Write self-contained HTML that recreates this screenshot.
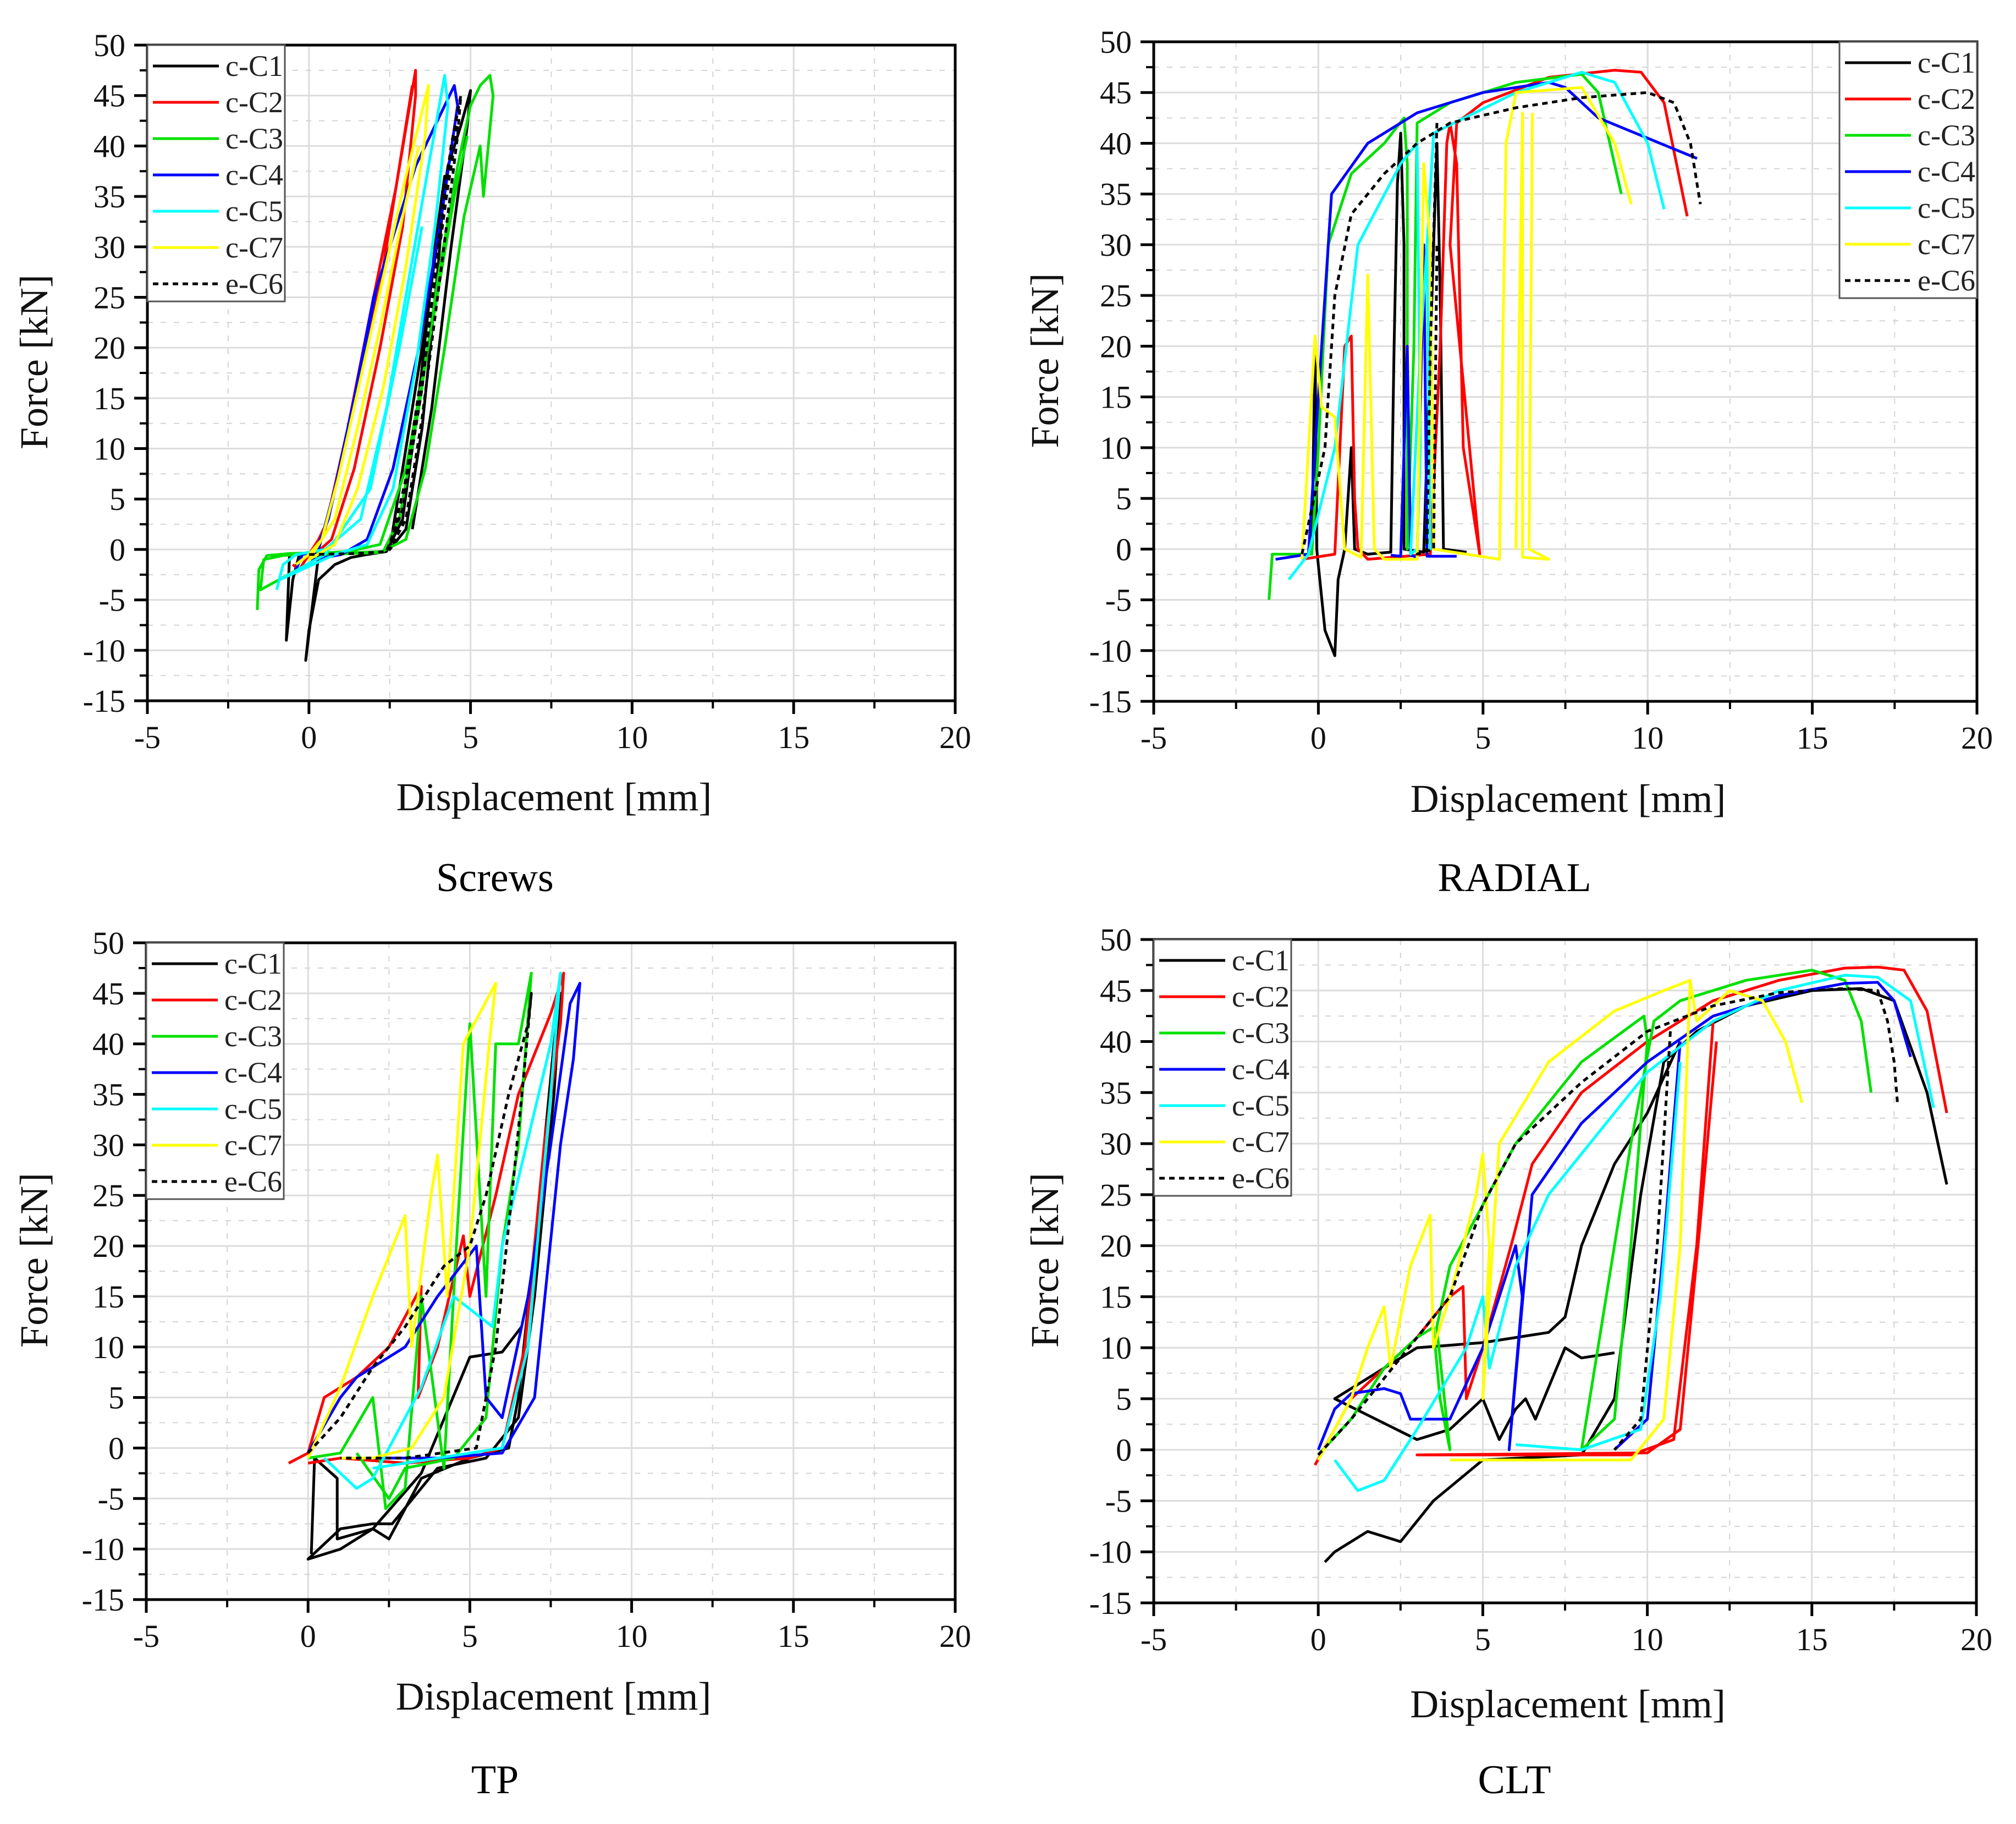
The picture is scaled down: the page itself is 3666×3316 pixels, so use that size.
<!DOCTYPE html>
<html>
<head>
<meta charset="utf-8">
<style>
  html, body { margin: 0; padding: 0; background: #ffffff; }
  svg { display: block; font-family: "Liberation Serif", "DejaVu Serif", serif; }
</style>
</head>
<body>
<svg id="fig" width="3666" height="3316" viewBox="0 0 3666 3316" xmlns="http://www.w3.org/2000/svg"></svg>
<script>
// ---------- shared axis data ----------
const xTicks = [-5, 0, 5, 10, 15, 20];
const yTicks = [-15, -10, -5, 0, 5, 10, 15, 20, 25, 30, 35, 40, 45, 50];
const seriesNames = ["c-C1", "c-C2", "c-C3", "c-C4", "c-C5", "c-C7", "e-C6"];
const seriesColors = ["#000000", "#ff0000", "#00e000", "#0000ff", "#00ffff", "#ffff00", "#000000"];

// ---------- Screws data ([displacement mm, force kN]; null = pen up) ----------
const screwsC1 = [[-0.6,-0.5],[-0.7,-9],[-0.5,-3],[-0.3,-0.5],[0,-0.3],[0.3,-0.5],[-0.1,-11],[0,-8],[0.3,-3],[0.8,-1.5],[1.3,-0.8],[1.8,-0.5],[2.4,-0.2],[2.9,3],[3.4,15],[3.9,30],[4.2,37],[4.0,28],[3.5,12],[3.0,2],[2.5,0],[2.9,8],[3.6,22],[4.3,38],[4.7,42],[5.0,45.5],[4.9,42],[4.4,30],[3.8,14],[3.2,2]];
const screwsC2 = [[-0.5,-1.5],[-0.3,-2],[0,-0.5],[0.5,2],[1.2,12],[2.0,25],[2.7,36],[3.3,47.5],[3.3,45],[2.9,32],[2.2,20],[1.4,8],[0.7,1],[0,-1],[0.6,3],[1.5,16],[2.3,28],[2.9,40],[3.2,46]];
const screwsC3 = [[-1.6,-6],[-1.55,-2],[-1.3,-0.6],[-0.6,-0.4],[0.5,-0.3],[1.5,-0.3],[2.3,-0.2],[2.8,3],[3.4,14],[4.0,27],[4.6,38],[5.0,44],[5.3,46],[5.6,47],[5.7,45],[5.4,35],[5.3,40],[4.8,33],[4.2,20],[3.6,8],[3.0,1],[2.2,-0.3],[0.5,-0.5],[-1.5,-4],[-1.4,-1],[-0.8,-0.6],[1.2,-0.2],[2.2,0.5],[3.0,8],[3.8,22],[4.5,35],[4.9,41]];
const screwsC4 = [[-0.4,-2],[-0.2,-0.5],[0.3,0],[0.8,6],[1.4,15],[2.0,25],[2.7,32],[3.3,38],[3.9,42],[4.5,46],[4.6,44],[4.1,33],[3.4,20],[2.6,8],[1.8,1],[1.0,-0.5],[0.1,-1],[0.6,3],[1.3,13],[2.1,26]];
const screwsC5 = [[-1.0,-4],[-0.8,-1.5],[-0.4,-0.5],[0.5,0],[1.6,3],[2.4,14],[3.1,27],[3.7,38],[4.2,47],[4.3,44],[3.9,32],[3.3,18],[2.6,6],[1.8,0.5],[0.8,-0.5],[-0.9,-3],[0.5,-0.5],[1.9,6],[2.8,20],[3.5,32]];
const screwsC7 = [[-0.4,-1.5],[0,-0.5],[0.4,1],[0.9,7],[1.6,17],[2.3,27],[3.0,37],[3.7,46],[3.6,41],[3.0,28],[2.3,16],[1.5,6],[0.8,0.5],[0,-1],[0.8,3],[1.5,12],[2.2,22],[2.9,33],[3.4,40]];
const screwsC6 = [[0,-0.5],[1.5,-0.4],[2.4,-0.2],[2.9,4],[3.5,16],[4.0,30],[4.4,40],[4.7,45],[4.6,41],[4.1,28],[3.5,13],[3.0,3],[2.5,0],[3.0,7],[3.7,22],[4.3,36],[4.6,42]];

// ---------- RADIAL data ----------
const radialC1 = [[-0.6,-0.5],[-0.2,-0.5],[-0.1,20],[-0.05,0],[0.2,-8],[0.5,-10.5],[0.6,-3],[0.8,0],[1.0,10],[1.1,0],[1.5,-0.5],[2.2,-0.3],[2.3,20],[2.4,36],[2.5,41],[2.6,30],[2.6,0],[3.2,-0.3],[3.4,20],[3.6,40],[3.7,25],[3.8,0],[4.5,-0.3]];
const radialC2 = [[-0.5,-1],[0.5,-0.5],[0.8,20],[1.0,21],[1.1,5],[1.2,0],[1.5,-1],[3.4,-0.5],[3.7,20],[3.9,40],[4.0,42],[4.2,38],[4.4,10],[4.9,-0.5],[4.0,30],[4.2,42],[5.0,44],[7.0,46.5],[9.0,47.2],[9.8,47],[10.5,44],[11.2,32.8]];
const radialC3 = [[-1.5,-5],[-1.4,-0.5],[-0.2,-0.5],[0,10],[0.3,30],[1.0,37],[2.0,40],[2.6,42.5],[2.7,38],[2.7,0],[2.9,20],[3.0,42],[4.0,44],[6.0,46],[8.0,46.8],[8.5,45],[9.2,35]];
const radialC4 = [[-1.3,-1],[-0.3,-0.5],[0,15],[0.4,35],[1.5,40],[3.0,43],[5.0,45],[7.0,46],[7.5,45.5],[8.5,42.5],[11.5,38.5],null,[2.2,-0.6],[2.5,-0.7],[2.7,20],[2.8,-0.6],[3.0,-0.8],[3.2,30],[3.3,-0.7],[4.2,-0.7]];
const radialC5 = [[-0.9,-3],[-0.3,-0.5],[0.5,10],[1.2,30],[2.5,38],[3.0,40],[3.1,10],[3.0,0],[2.8,-0.5],[3.1,20],[3.3,30],[3.4,0],[3.3,30],[3.5,41],[6.0,45],[8.0,47],[9.0,46],[10.0,40],[10.5,33.5]];
const radialC7 = [[-0.5,-1],[-0.1,21],[0.1,14],[0.5,13],[0.8,0],[1.3,-0.8],[1.5,27],[1.7,0],[2.0,-1],[3.0,-1],[3.2,38],[3.4,30],[3.5,0],[5.5,-1],[5.7,40],[6.0,45],[8.0,45.5],[9.0,40],[9.5,34],null,[6.5,43],[6.4,0],[7.0,-1],[6.2,-0.8],[6.2,43],[6.0,0]];
const radialC6 = [[-0.5,-0.5],[0.2,10],[0.5,25],[1.0,33],[2.0,37],[3.0,40],[4.0,42],[6.0,43.5],[8.0,44.5],[10.0,45],[10.8,44],[11.3,40],[11.6,34],null,[3.6,42],[3.4,20],[3.3,0],[3.0,-0.5],[3.5,0],[3.6,30]];

// ---------- TP data ----------
const tpC1 = [[0.1,-10.5],[0.2,-1],[0.9,-3],[0.9,-9],[2.0,-8],[2.5,-9],[3.5,-3],[5.0,-1],[6.2,0],[6.5,5],[7.0,20],[7.6,40],[7.8,45],[7.6,35],[7.0,15],[6.5,3],[5.5,-1],[4.0,-2],[2.6,-7.5],[2.0,-7.5],[1.0,-8],[0,-11],[1.0,-10],[2.0,-8],[3.5,-2.5],[5.0,9],[6.0,9.5],[6.6,12]];
const tpC2 = [[-0.6,-1.5],[0,-0.5],[0.5,5],[1.5,7],[2.5,10],[3.5,16],[3.4,5],[4.0,10],[4.8,21],[5.0,15],[5.8,25],[6.5,35],[7.5,43],[7.9,47],[7.8,42],[7.3,30],[6.7,10],[6.0,0],[5.0,-1],[3.0,-1.5],[1.0,-1],[0,-1.5]];
const tpC3 = [[0,-1],[1.0,-0.5],[2.0,5],[2.4,-6],[3.0,-4],[3.5,15],[4.2,-2],[4.6,21],[5.0,42],[5.5,15],[5.8,40],[6.5,40],[6.9,47],[6.5,30],[6.0,20],[5.5,3],[4.5,-1],[3.0,-2],[2.5,-5],[1.5,-0.5]];
const tpC4 = [[0,-0.5],[1.0,5],[1.5,7],[3.0,10],[4.0,15],[5.2,20],[5.5,5],[6.0,3],[6.8,15],[7.5,30],[8.1,44],[8.4,46],[8.2,38.5],[7.8,30],[7.0,5],[6.0,-0.5],[4.0,-1],[2.0,-1]];
const tpC5 = [[0.5,-1],[1.5,-4],[2.0,-3],[3.5,6],[4.5,15],[5.7,12],[6.0,20],[7.5,40],[7.8,47],[7.5,35],[6.8,10],[6.0,0],[4.0,-1],[2.0,-2]];
const tpC7 = [[0,-1],[1.0,6],[2.0,15],[3.0,23],[3.2,10],[3.8,25],[4.0,29],[4.3,15],[4.8,40],[5.8,46],[5.6,40],[5.0,20],[4.2,5],[3.2,0],[2.0,-1],[1.0,-1]];
const tpC6 = [[0,-0.5],[1.0,3],[2.0,8],[3.0,12],[4.2,18],[5.0,20],[5.5,25],[6.2,35],[6.8,42],[6.9,45],[6.7,38],[6.3,25],[5.8,10],[5.2,0],[3.0,-1],[1.0,-1]];

// ---------- CLT data ----------
const cltC1 = [[0.2,-11],[0.5,-10],[1.5,-8],[2.5,-9],[3.5,-5],[5.0,-1],[8.0,-0.5],[9.0,5],[9.8,25],[10.5,38],[11.5,41],[13.0,43.5],[15.0,45],[16.5,45.2],[17.5,44],[18.5,35],[19.1,26],null,[11.0,40],[10.0,33],[9.0,28],[8.0,20],[7.5,13],[7.0,11.5],[6.0,11],[5.0,10.5],[3.0,10],[0.5,5],[3.0,1],[4.0,2],[5.0,5],[5.5,1],[6.0,4],[6.3,5],[6.6,3],[7.5,10],[8.0,9],[9.0,9.5]];
const cltC2 = [[-0.1,-1.5],[0.5,2],[1.0,5],[2.0,8],[3.0,11],[4.0,15],[4.4,16],[4.5,5],[5.0,10],[5.9,20.5],[6.5,28],[8.0,35],[10.0,40],[12.0,44],[14.0,46],[16.0,47.2],[17.0,47.3],[17.8,47],[18.5,43],[19.1,33],null,[12.0,42],[11.5,20],[10.8,1],[9.5,-0.5],[3.0,-0.5],[10.0,-0.3],[11.0,2],[11.6,22],[12.1,40]];
const cltC3 = [[0,-0.5],[1.0,3],[2.0,8],[3.0,11],[3.5,12],[3.7,5],[4.0,0],[3.6,12],[4.0,18],[5.0,24],[6.0,30],[8.0,38],[9.9,42.5],[10.0,40],[9.5,20],[9.0,3],[8.0,0],[9.5,30],[10.2,42],[11.0,44],[13.0,46],[15.0,47],[16.0,46],[16.5,42],[16.8,35]];
const cltC4 = [[0,0],[0.5,4],[1.0,5.5],[2.0,6],[2.5,5.5],[2.8,3],[4.0,3],[5.0,10],[6.0,20],[6.2,15],[5.8,0],[6.5,25],[8.0,32],[10.0,38],[12.0,42.5],[14.0,44.5],[16.0,45.7],[17.0,45.8],[17.5,44],[18.0,38.5],null,[11.0,40],[10.5,20],[10.0,3],[9.0,0]];
const cltC5 = [[0.5,-1],[1.2,-4],[2.0,-3],[3.0,2],[4.5,10],[5.0,15],[5.2,8],[6.0,18],[7.0,25],[8.5,31],[10.0,37],[12.0,42],[14.0,45],[16.0,46.5],[17.0,46.3],[18.0,44],[18.7,33.5],null,[11.0,38],[10.4,15],[9.8,2],[8.0,0],[6.0,0.5]];
const cltC7 = [[0,-1],[1.0,5],[1.5,10],[2.0,14],[2.2,8],[2.8,18],[3.4,23],[3.5,10],[4.0,15],[4.8,25],[5.0,29],[5.2,20],[5.0,5],[5.5,30],[7.0,38],[9.0,43],[10.5,45],[11.3,46],[11.5,42],[12.5,45],[13.5,44],[14.2,40],[14.7,34],null,[11.3,46],[11.0,20],[10.5,3],[9.5,-1],[7.0,-1],[4.0,-1]];
const cltC6 = [[0,-0.5],[1.0,3],[2.0,7],[3.0,11],[4.0,15],[5.0,24],[6.0,30],[8.0,36],[10.0,41],[12.0,43.5],[14.0,44.8],[16.0,45.2],[17.0,45],[17.3,42],[17.5,38],[17.6,34],null,[10.7,41],[10.3,20],[9.8,3],[9.0,0]];

const panelData = [
  [screwsC1, screwsC2, screwsC3, screwsC4, screwsC5, screwsC7, screwsC6],
  [radialC1, radialC2, radialC3, radialC4, radialC5, radialC7, radialC6],
  [tpC1, tpC2, tpC3, tpC4, tpC5, tpC7, tpC6],
  [cltC1, cltC2, cltC3, cltC4, cltC5, cltC7, cltC6]
];
const panelTitles = ["Screws", "RADIAL", "TP", "CLT"];

// ---------- layout (pixels) ----------
const layouts = [
  { key: "screws", L: 268, R: 1737, T: 82, B: 1274, legendX: 268, titleX: 900, titleY: 1620, xTitleY: 1473, yTitleX: 62 },
  { key: "radial", L: 2098, R: 3595, T: 76, B: 1275, legendX: 3345, titleX: 2754, titleY: 1620, xTitleY: 1476, yTitleX: 1900 },
  { key: "tp", L: 266, R: 1737, T: 1714, B: 2908, legendX: 266, titleX: 900, titleY: 3260, xTitleY: 3108, yTitleX: 62 },
  { key: "clt", L: 2098, R: 3594, T: 1708, B: 2914, legendX: 2098, titleX: 2754, titleY: 3260, xTitleY: 3122, yTitleX: 1900 }
];

const NS = "http://www.w3.org/2000/svg";
const svg = document.getElementById("fig");
function mk(tag, attrs, parent) {
  const e = document.createElementNS(NS, tag);
  for (const k in attrs) e.setAttribute(k, attrs[k]);
  parent.appendChild(e);
  return e;
}

layouts.forEach((lay, pi) => {
  const g = mk("g", {}, svg);
  
  
  const xMin = -5, xMax = 20, yMin = -15, yMax = 50;
  const sx = v => lay.L + (v - xMin) / (xMax - xMin) * (lay.R - lay.L);
  const sy = v => lay.B - (v - yMin) / (yMax - yMin) * (lay.B - lay.T);

  // grid
  const grid = mk("g", {}, g);
  
  
  for (let i = 0; i < xTicks.length; i++) {
    const v = xTicks[i];
    if (v > xMin && v < xMax) mk("line", { x1: sx(v), x2: sx(v), y1: lay.T, y2: lay.B, stroke: "#dcdcdc", "stroke-width": 3 }, grid);
    const m = v + 2.5;
    if (m < xMax) mk("line", { x1: sx(m), x2: sx(m), y1: lay.T, y2: lay.B, stroke: "#d4d4d4", "stroke-width": 2, "stroke-dasharray": "10 14" }, grid);
  }
  for (let i = 0; i < yTicks.length; i++) {
    const v = yTicks[i];
    if (v > yMin && v < yMax) mk("line", { x1: lay.L, x2: lay.R, y1: sy(v), y2: sy(v), stroke: "#dcdcdc", "stroke-width": 3 }, grid);
    const m = v + 2.5;
    if (m < yMax) mk("line", { x1: lay.L, x2: lay.R, y1: sy(m), y2: sy(m), stroke: "#d4d4d4", "stroke-width": 2, "stroke-dasharray": "10 14" }, grid);
  }

  // series
  const series = panelData[pi];
  series.forEach((pts, si) => {
    let d = "", pen = false;
    pts.forEach(p => {
      if (p === null) { pen = false; return; }
      d += (pen ? "L" : "M") + sx(p[0]).toFixed(1) + "," + sy(p[1]).toFixed(1) + " ";
      pen = true;
    });
    const path = mk("path", { d: d, fill: "none", stroke: seriesColors[si], "stroke-width": 5, "stroke-linejoin": "round" }, g);
    if (si === 6) path.setAttribute("stroke-dasharray", "10 8");
    
    
  });

  // frame
  const frame = mk("rect", { x: lay.L, y: lay.T, width: lay.R - lay.L, height: lay.B - lay.T, fill: "none", stroke: "#000", "stroke-width": 5 }, g);
  
  

  // ticks & labels
  const xt = mk("g", { "font-size": 58, "text-anchor": "middle", fill: "#111" }, g);
  
  
  xTicks.forEach(v => {
    mk("line", { x1: sx(v), x2: sx(v), y1: lay.B, y2: lay.B + 24, stroke: "#000", "stroke-width": 5 }, xt);
    if (v < xMax) mk("line", { x1: sx(v + 2.5), x2: sx(v + 2.5), y1: lay.B, y2: lay.B + 14, stroke: "#000", "stroke-width": 4 }, xt);
    const t = mk("text", { x: sx(v), y: lay.B + 86 }, xt);
    t.textContent = String(v);
  });
  const yt = mk("g", { "font-size": 58, "text-anchor": "end", fill: "#111" }, g);
  
  
  yTicks.forEach(v => {
    mk("line", { x1: lay.L - 24, x2: lay.L, y1: sy(v), y2: sy(v), stroke: "#000", "stroke-width": 5 }, yt);
    if (v < yMax) mk("line", { x1: lay.L - 14, x2: lay.L, y1: sy(v + 2.5), y2: sy(v + 2.5), stroke: "#000", "stroke-width": 4 }, yt);
    const t = mk("text", { x: lay.L - 40, y: sy(v) + 20 }, yt);
    t.textContent = String(v);
  });

  // axis titles
  const xTitle = mk("text", { x: (lay.L + lay.R) / 2 + 5, y: lay.xTitleY, "font-size": 72, "text-anchor": "middle", fill: "#111" }, g);
  xTitle.textContent = "Displacement [mm]";
  
  
  const cy = (lay.T + lay.B) / 2 - 20;
  const yTitle = mk("text", { x: lay.yTitleX, y: cy, "font-size": 72, "text-anchor": "middle", fill: "#111", transform: "rotate(-90 " + lay.yTitleX + " " + cy + ") translate(0 24)" }, g);
  yTitle.textContent = "Force [kN]";
  
  

  // panel caption
  const cap = mk("text", { x: lay.titleX, y: lay.titleY, "font-size": 74, "text-anchor": "middle", fill: "#000" }, g);
  cap.textContent = panelTitles[pi];
  
  

  // legend
  const lg = mk("g", {}, g);
  
  
  const lw = 250, lh = 466;
  const lx = lay.legendX, ly = lay.T;
  mk("rect", { x: lx, y: ly, width: lw, height: lh, fill: "#fff", stroke: "#555", "stroke-width": 3 }, lg);
  seriesNames.forEach((nm, si) => {
    const ry = ly + 38 + si * 66;
    const ent = mk("g", {}, lg);
    
    
    const ln = mk("line", { x1: lx + 10, x2: lx + 130, y1: ry, y2: ry, stroke: seriesColors[si], "stroke-width": 5 }, ent);
    if (si === 6) ln.setAttribute("stroke-dasharray", "10 8");
    const t = mk("text", { x: lx + 142, y: ry + 18, "font-size": 54, fill: "#222" }, ent);
    t.textContent = nm;
  });
});
</script>
</body>
</html>
